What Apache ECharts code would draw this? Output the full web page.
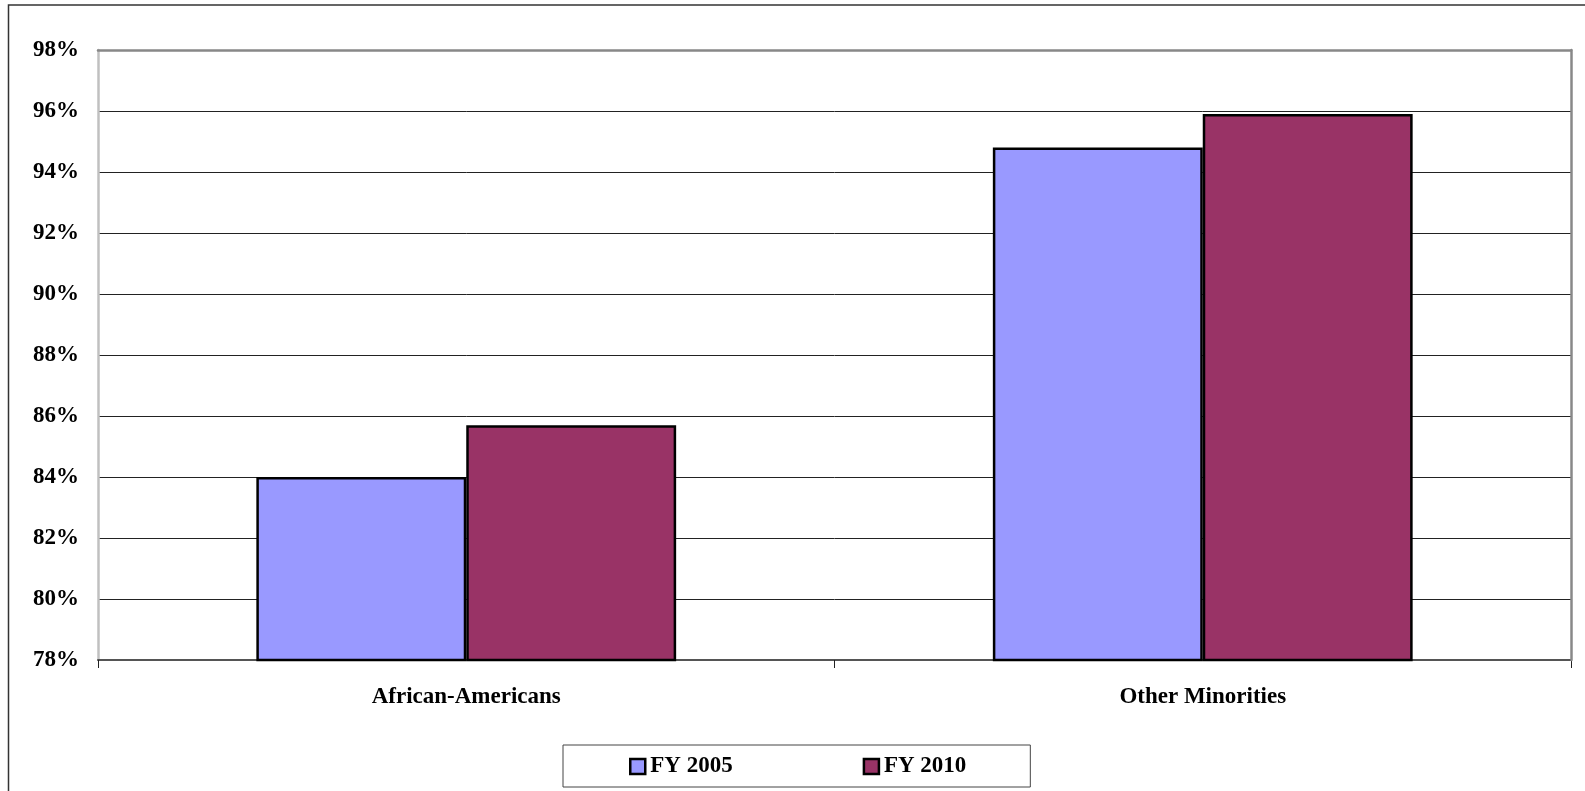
<!DOCTYPE html>
<html>
<head>
<meta charset="utf-8">
<script src="https://cdn.jsdelivr.net/npm/echarts@6/dist/echarts.min.js"></script>
<style>
  html, body { margin: 0; padding: 0; background: #fff; }
  #chart { width: 1585px; height: 791px; }
</style>
</head>
<body>
<div id="chart"></div>
<script>
// data
var categories = ["African-Americans", "Other Minorities"];
var fy2005 = [84.0, 94.8];
var fy2010 = [85.7, 95.9];

var font = "'Liberation Serif', 'Times New Roman', serif";

var myChart = echarts.init(document.getElementById("chart"));
var option = {
  backgroundColor: "#ffffff",
  animation: false,
  textStyle: { fontFamily: font },
  // outer frame of the chart area
  graphic: [
    {
      type: "rect",
      shape: { x: 8.5, y: 5, width: 1700, height: 900 },
      style: { fill: "none", stroke: "#333", lineWidth: 1.5 },
      silent: true
    }
  ],
  grid: {
    left: 98,
    right: 14,
    top: 50,
    bottom: 131
  },
  legend: {
    left: 563,
    top: 745,
    itemWidth: 15,
    itemHeight: 15,
    itemGap: 130,
    padding: [10, 64, 9, 66],
    borderColor: "#444",
    borderWidth: 1,
    icon: "rect",
    data: ["FY 2005", "FY 2010"],
    textStyle: {
      fontFamily: font,
      fontWeight: "bold",
      fontSize: 23,
      color: "#000"
    },
    itemStyle: { borderColor: "#000", borderWidth: 2.5 }
  },
  xAxis: [
    {
      type: "category",
      data: categories,
      axisLine: { lineStyle: { color: "#555", width: 2 } },
      axisTick: { show: true, length: 8, lineStyle: { color: "#222", width: 1 } },
      axisLabel: {
        fontFamily: font,
        fontWeight: "bold",
        fontSize: 23,
        color: "#000",
        margin: 26
      }
    },
    {
      // gray top edge of the plot frame
      type: "category",
      position: "top",
      data: categories,
      z: 3,
      axisLine: { lineStyle: { color: "#888", width: 2.5 } },
      axisTick: { show: false },
      axisLabel: { show: false }
    }
  ],
  yAxis: [
    {
      type: "value",
      min: 78,
      max: 98,
      interval: 2,
      axisLine: { show: true, lineStyle: { color: "#c0c0c0", width: 2.5 } },
      axisTick: { show: false },
      splitLine: { lineStyle: { color: "#222", width: 1 } },
      axisLabel: {
        formatter: "{value}%",
        fontFamily: font,
        fontWeight: "bold",
        fontSize: 23,
        color: "#000",
        margin: 19
      }
    },
    {
      // gray right edge of the plot frame
      type: "value",
      position: "right",
      min: 78,
      max: 98,
      interval: 2,
      z: 3,
      axisLine: { show: true, lineStyle: { color: "#888", width: 2.5 } },
      axisTick: { show: false },
      splitLine: { show: false },
      axisLabel: { show: false }
    }
  ],
  series: [
    {
      name: "FY 2005",
      type: "bar",
      data: fy2005,
      barGap: "0%",
      barCategoryGap: "43%",
      itemStyle: { color: "#9999ff", borderColor: "#000", borderWidth: 2.5 }
    },
    {
      name: "FY 2010",
      type: "bar",
      data: fy2010,
      itemStyle: { color: "#993366", borderColor: "#000", borderWidth: 2.5 }
    }
  ]
};
myChart.setOption(option);
window.addEventListener("resize", function () {
  myChart.resize();
});
</script>
</body>
</html>
